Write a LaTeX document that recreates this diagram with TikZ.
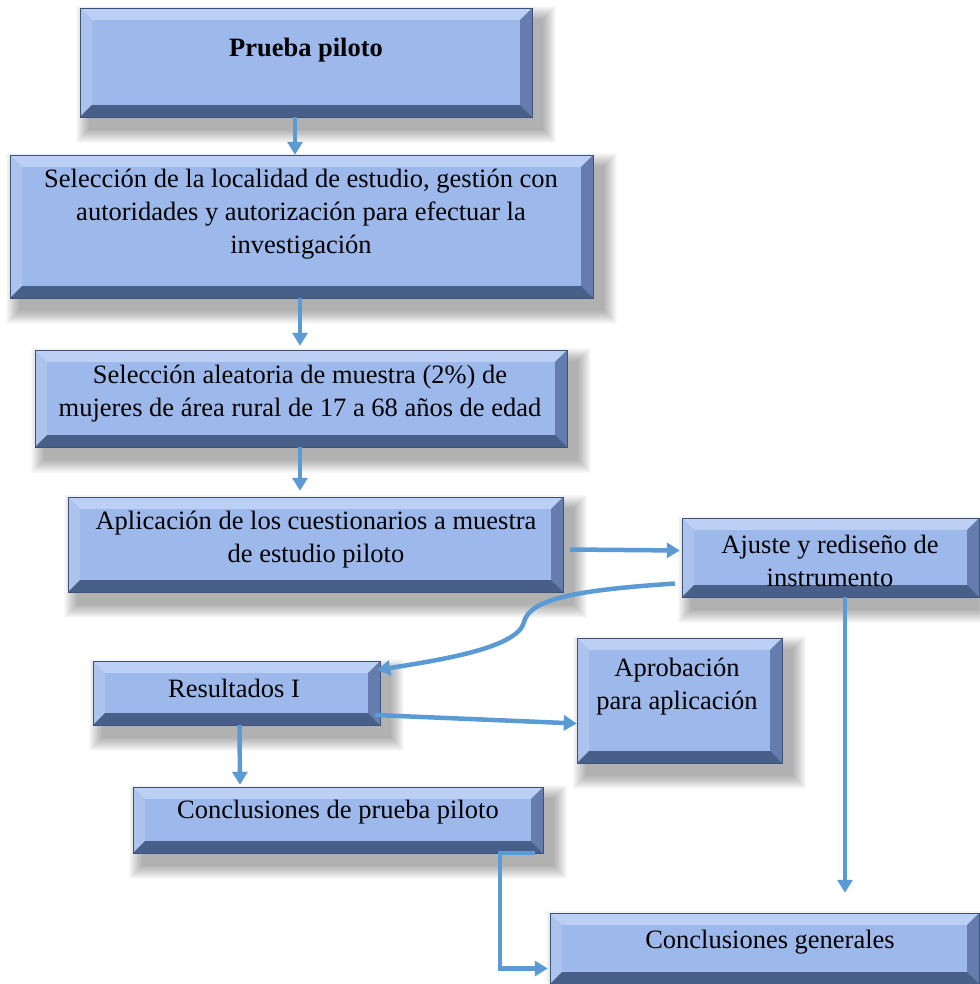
\documentclass[tikz,border=0pt]{standalone}
\usepackage{fontspec}
\setmainfont{Liberation Serif}
\usetikzlibrary{arrows.meta,calc,fit}
\definecolor{bvface}{RGB}{157,184,234}
\definecolor{bvtopc}{RGB}{188,207,244}
\definecolor{bvleftc}{RGB}{172,195,238}
\definecolor{bvrightc}{RGB}{100,125,174}
\definecolor{bvbotc}{RGB}{72,95,138}
\definecolor{bvedgec}{RGB}{62,82,118}
\definecolor{arrc}{RGB}{91,155,213}
\newcommand\bw{12}
\newcommand\bevbox[5]{%
  \foreach \k in {1,...,14}{\fill[black,opacity=0.022] (#2+10-\k,#3+12-\k) rectangle (#4+10+\k,#5+12+\k);}
  \fill[bvtopc] (#2,#3) -- (#4,#3) -- (#4-\bw,#3+\bw) -- (#2+\bw,#3+\bw) -- cycle;
  \fill[bvleftc] (#2,#3) -- (#2+\bw,#3+\bw) -- (#2+\bw,#5-\bw) -- (#2,#5) -- cycle;
  \fill[bvrightc] (#4,#3) -- (#4,#5) -- (#4-\bw,#5-\bw) -- (#4-\bw,#3+\bw) -- cycle;
  \fill[bvbotc] (#2,#5) -- (#4,#5) -- (#4-\bw,#5-\bw) -- (#2+\bw,#5-\bw) -- cycle;
  \fill[bvface] (#2+\bw,#3+\bw) rectangle (#4-\bw,#5-\bw);
  \draw[bvedgec,line width=0.8pt] (#2,#3) rectangle (#4,#5);
  \node[inner sep=0pt,fit={(#2,#3) (#4,#5)}] (#1) {};
}
\tikzset{
  txt/.style={align=center,font=\fontsize{26.5}{33}\selectfont,inner sep=0pt,text=black},
  arr/.style={draw=arrc,line width=4.5pt,-{Triangle[length=13pt,width=15pt]}},
  lin/.style={draw=arrc,line width=4.5pt}
}
\begin{document}
\begin{tikzpicture}[x=1pt,y=-1pt]
\useasboundingbox (0,0) rectangle (979,984);
\fill[white] (0,0) rectangle (979,984);
\bevbox{p1}{80}{8}{532}{117}
\bevbox{p2}{10}{155}{593}{298}
\bevbox{p3}{35}{350}{567}{447}
\bevbox{p4}{68}{497}{563}{592}
\bevbox{p5}{682}{518}{979}{597}
\bevbox{p6}{93}{661}{380}{725}
\bevbox{p7}{577}{638}{782}{763}
\bevbox{p8}{133}{787}{543}{853}
\bevbox{p9}{550}{913}{979}{984}

\node[txt,font=\fontsize{26.5}{33}\selectfont\bfseries] (t1) at (306,50) {Prueba piloto};
\node[txt] (t2) at (301,214) {Selección de la localidad de estudio, gestión con\\autoridades y autorización para efectuar la\\investigación};
\node[txt] (t3) at (300,394) {Selección aleatoria de muestra (2\%) de\\mujeres de área rural de 17 a 68 años de edad};
\node[txt] (t4) at (316,540) {Aplicación de los cuestionarios a muestra\\de estudio piloto};
\node[txt] (t5) at (830,561) {Ajuste y rediseño de\\instrumento};
\node[txt] (t6) at (234,688) {Resultados I};
\node[txt] (t7) at (677,687) {Aprobación\\para aplicación};
\node[txt] (t8) at (338,812) {Conclusiones de prueba piloto};
\node[txt] (t9) at (770,942) {Conclusiones generales};

\draw[arr] ([xshift=-11pt]p1.south) -- ([xshift=-6.5pt]p2.north);
\draw[arr] ([xshift=-1.5pt]p2.south) -- ([xshift=-1pt,yshift=4pt]p3.north);
\draw[arr] ([xshift=-1pt]p3.south) -- ([xshift=-15.5pt,yshift=6pt]p4.north);
\draw[arr] ([xshift=7pt,yshift=-5pt]p4.east) -- ([xshift=-2pt,yshift=7pt]p5.west);
\draw[arr] ([xshift=-7pt,yshift=-26pt]p5.west) .. controls (580,590) and (530,598) .. (524,622) .. controls (518,648) and (440,660) .. ([xshift=-3pt,yshift=23pt]p6.east);
\draw[arr] ([xshift=-5pt,yshift=-22pt]p6.east) -- ([yshift=-23pt]p7.west);
\draw[arr] ([xshift=3pt]p6.south) -- ([xshift=-98pt,yshift=2pt]p8.north);
\draw[arr] ([xshift=14.5pt]p5.south) -- ([xshift=80.5pt,yshift=20pt]p9.north);
\draw[arr] ([xshift=-8pt]p8.south east) -| ([xshift=-50pt,yshift=-20pt]p9.west) -- ([xshift=-2pt,yshift=-20pt]p9.west);
\end{tikzpicture}
\end{document}
